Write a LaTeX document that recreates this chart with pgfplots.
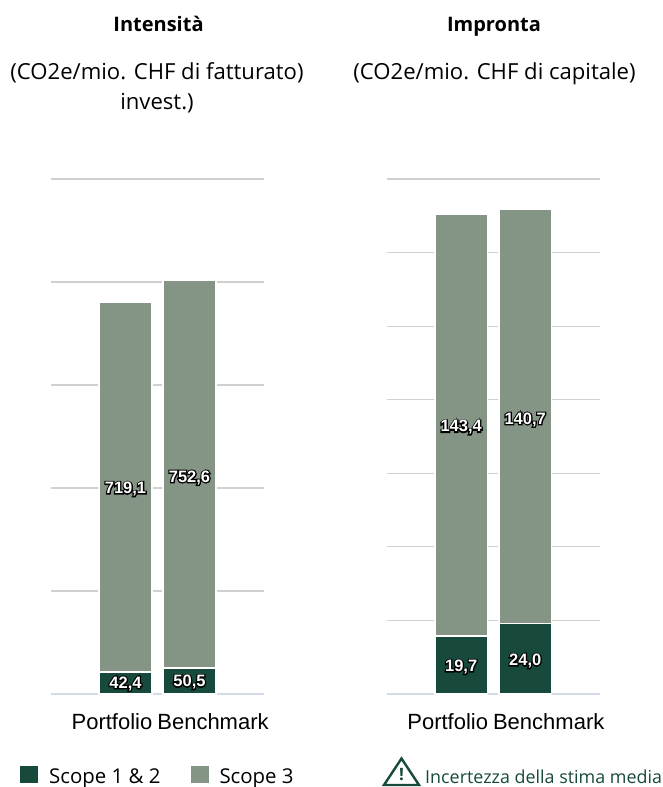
\documentclass[border=0pt]{standalone}
\usepackage{fontspec}
\setmainfont{Open Sans}
\newfontfamily\lib{Liberation Sans}
\usepackage{pgfplots}
\pgfplotsset{compat=1.18}
\definecolor{dk}{HTML}{174A3C}
\definecolor{lt}{HTML}{859585}
\definecolor{gr}{HTML}{D0D0D0}
\definecolor{bl}{HTML}{D3DCE8}
\newcommand{\vlabel}[1]{{\lib\bfseries\fontsize{16.5}{16.5}\selectfont\rlap{\special{pdf:code 1 Tr 2.4 w 0 0 0 RG 0 0 0 rg}#1\special{pdf:code 0 Tr 1 w}}\textcolor{white}{#1}}}
\pgfplotsset{
  base/.style={
    scale only axis, width=213pt, height=515pt,
    xmin=-1.164, xmax=2.164, ymin=0,
    clip=false,
    xtick={0,1},
    xticklabels={\hspace*{-27pt}Portfolio,\hspace*{47pt}Benchmark},
    xticklabel style={font=\lib\fontsize{22}{22}\selectfont, yshift=-16pt, text=black},
    yticklabels={},
    major tick length=0pt,
    axis x line=bottom,
    axis y line=left,
    x axis line style={bl, line width=1.4pt, -},
    y axis line style={draw=none},
    ymajorgrids, grid style={gr, line width=1.2pt},
  },
  bars/.style={ybar stacked, bar width=52.5pt, draw=white, line width=1.6pt,
    legend image code/.code={\fill[##1, draw=none] (0pt,0pt) rectangle (18pt,17pt);}},
  over/.style={
    scale only axis, width=213pt, height=515pt,
    xmin=-1.164, xmax=2.164, ymin=0, hide axis, clip=false,
  },
  lab/.style={only marks, mark=none, point meta=explicit symbolic,
    nodes near coords, nodes near coords align={center},
    every node near coord/.style={inner sep=0pt, anchor=center}},
}
\begin{document}
\begin{tikzpicture}
\path (0,0) rectangle (662pt,787pt);
% left
\begin{axis}[base, at={(51pt,93pt)}, anchor=south west, ymax=1000, ytick={0,200,400,600,800,1000},
  legend style={at={(axis description cs:-0.1455,-0.1765)}, anchor=south west, draw=none, fill=none, inner sep=0pt,
    legend columns=2, font=\fontsize{20.4}{20.4}\selectfont,
    /tikz/every odd column/.style={column sep=11pt},
    /tikz/every even column/.style={column sep=30pt},
    nodes={inner sep=0pt, anchor=base west}},
]
\addplot[bars, fill=dk] coordinates {(0,42.4) (1,50.5)};
\addplot[bars, fill=lt] coordinates {(0,719.1) (1,752.6)};
\legend{Scope 1 \& 2, Scope 3}
\end{axis}
\begin{axis}[over, at={(51pt,93pt)}, anchor=south west, ymax=1000]
\addplot[lab, nodes near coords={\vlabel{\pgfplotspointmeta}}] coordinates {(0,20) [42,4] (1,23) [50,5] (0,398) [719,1] (1,420) [752,6]};
\end{axis}
% right
\begin{axis}[base, at={(386.7pt,93pt)}, anchor=south west, ymax=175, ytick={0,25,50,75,100,125,150,175}]
\addplot[bars, fill=dk] coordinates {(0,19.7) (1,24.0)};
\addplot[bars, fill=lt] coordinates {(0,143.4) (1,140.7)};
\end{axis}
\begin{axis}[over, at={(386.7pt,93pt)}, anchor=south west, ymax=175]
\addplot[lab, nodes near coords={\vlabel{\pgfplotspointmeta}}] coordinates {(0,9.2) [19,7] (1,11.2) [24,0] (0,90.6) [143,4] (1,93.2) [140,7]};
\end{axis}
% titles
\node[font=\bfseries\fontsize{20}{20}\selectfont, anchor=base] at (158.5pt,755pt) {Intensità};
\node[font=\fontsize{22.1}{22.1}\selectfont, anchor=base] at (157pt,707pt) {(CO2e/mio. CHF di fatturato)};
\node[font=\fontsize{22.1}{22.1}\selectfont, anchor=base] at (157pt,677pt) {invest.)};
\node[font=\bfseries\fontsize{20}{20}\selectfont, anchor=base] at (494pt,755pt) {Impronta};
\node[font=\fontsize{22.1}{22.1}\selectfont, anchor=base] at (494.5pt,707pt) {(CO2e/mio. CHF di capitale)};
% uncertainty
\draw[dk, line width=2.4pt, line join=miter] (384pt,2pt) -- (401.5pt,28.5pt) -- (419pt,2pt) -- cycle;
\node[font=\bfseries\fontsize{17}{17}\selectfont, text=dk] at (401.5pt,12pt) {!};
\node[font=\fontsize{17.9}{17.9}\selectfont, text=dk, anchor=base west, inner sep=0pt] at (425pt,3pt) {Incertezza della stima media};
\end{tikzpicture}
\end{document}
